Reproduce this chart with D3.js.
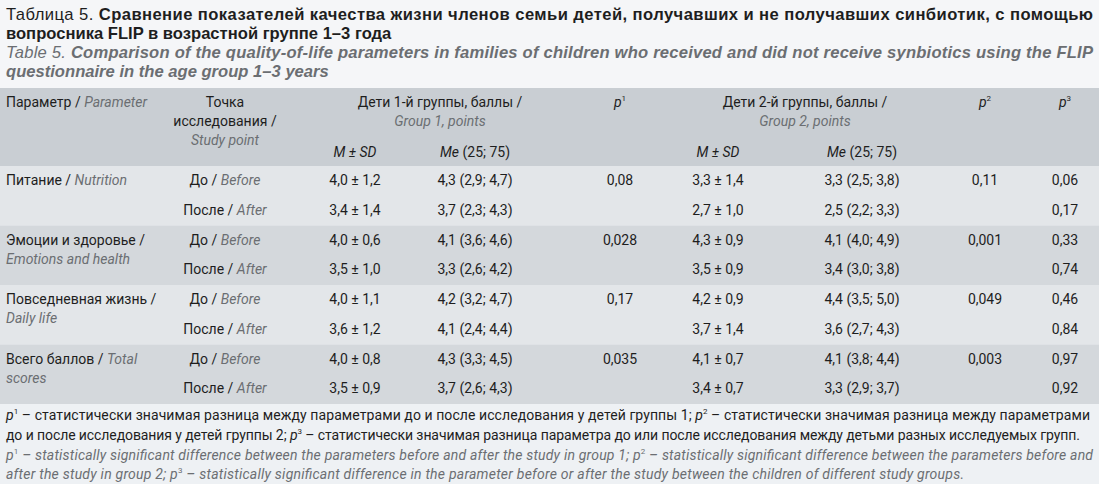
<!DOCTYPE html>
<html><head><meta charset="utf-8">
<script src="https://cdn.jsdelivr.net/npm/d3@7"></script>
<style>body{margin:0;background:#f3f5f7}svg{display:block}</style></head>
<body><svg id="c" width="1099" height="484"></svg>
<script>
const paramsRu=["Питание","Эмоции и здоровье","Повседневная жизнь","Всего баллов"];
const paramsEn=["Nutrition","Emotions and health","Daily life","Total scores"];
const pointsRu=["До","После"], pointsEn=["Before","After"];
const g1msd=["4,0 ± 1,2","3,4 ± 1,4","4,0 ± 0,6","3,5 ± 1,0","4,0 ± 1,1","3,6 ± 1,2","4,0 ± 0,8","3,5 ± 0,9"];
const g1me=["4,3 (2,9; 4,7)","3,7 (2,3; 4,3)","4,1 (3,6; 4,6)","3,3 (2,6; 4,2)","4,2 (3,2; 4,7)","4,1 (2,4; 4,4)","4,3 (3,3; 4,5)","3,7 (2,6; 4,3)"];
const p1=["0,08","0,028","0,17","0,035"];
const g2msd=["3,3 ± 1,4","2,7 ± 1,0","4,3 ± 0,9","3,5 ± 0,9","4,2 ± 0,9","3,7 ± 1,4","4,1 ± 0,7","3,4 ± 0,7"];
const g2me=["3,3 (2,5; 3,8)","2,5 (2,2; 3,3)","4,1 (4,0; 4,9)","3,4 (3,0; 3,8)","4,4 (3,5; 5,0)","3,6 (2,7; 4,3)","4,1 (3,8; 4,4)","3,3 (2,9; 3,7)"];
const p2=["0,11","0,001","0,049","0,003"];
const p3=["0,06","0,17","0,33","0,74","0,46","0,84","0,97","0,92"];

const svg=d3.select("#c");
const N="Roboto,'Liberation Sans',Arial,sans-serif";
const W="'Liberation Sans',Arial,sans-serif";
const GR="#6b6e72", BK="#1e1e1e";
function txt(x,y,parts,opt={}){
  const t=svg.append("text").attr("x",x).attr("y",y).attr("font-family",opt.f||N)
   .attr("font-size",opt.s||14).attr("text-anchor",opt.a||"start").attr("fill",BK);
  if(opt.len)t.attr("textLength",opt.len).attr("lengthAdjust","spacing");
  parts.forEach(p=>{const ts=t.append("tspan").text(p.t);
    if(p.i)ts.attr("font-style","italic");
    if(p.b)ts.attr("font-weight","bold");
    if(p.g)ts.attr("fill",GR);
    if(p.sup)ts.attr("font-size",8).attr("dy",-6);
    if(p.down)ts.attr("dy",6);});
  return t;
}
svg.append("rect").attr("width",1099).attr("height",88).attr("fill","#f5f6f8");
svg.append("rect").attr("y",88).attr("width",1099).attr("height",78).attr("fill","#c9ced3");
const gy=d3.scaleBand().domain(d3.range(4)).range([166,404]);
svg.selectAll("rect.g").data(d3.range(4)).join("rect").attr("class","g")
 .attr("y",d=>gy(d)).attr("width",1099).attr("height",gy.bandwidth())
 .attr("fill",d=>d%2?"#d4d8dc":"#e3e6e9");
svg.append("rect").attr("y",404).attr("width",1099).attr("height",80).attr("fill","#eef1f4");

txt(6,20,[{t:"Таблица 5. "},{t:"Сравнение показателей качества жизни членов семьи детей, получавших и не получавших синбиотик, с помощью",b:1}],{f:W,s:16.6,len:1087});
txt(6,39,[{t:"вопросника FLIP в возрастной группе 1–3 года",b:1}],{f:W,s:16.6});
txt(6,58,[{t:"Table 5. ",i:1,g:1},{t:"Comparison of the quality-of-life parameters in families of children who received and did not receive synbiotics using the FLIP",i:1,b:1,g:1}],{f:W,s:16.6,len:1087});
txt(6,77,[{t:"questionnaire in the age group 1–3 years",i:1,b:1,g:1}],{f:W,s:16.6});

const cx={sp:225,m1:355,e1:475,p1:620,m2:718,e2:862,p2:985,p3:1065};
txt(6,107,[{t:"Параметр / "},{t:"Parameter",i:1,g:1}]);
txt(cx.sp,107,[{t:"Точка"}],{a:"middle"});
txt(cx.sp,126,[{t:"исследования /"}],{a:"middle"});
txt(cx.sp,145,[{t:"Study point",i:1,g:1}],{a:"middle"});
txt(440,107,[{t:"Дети 1-й группы, баллы /"}],{a:"middle"});
txt(440,126,[{t:"Group 1, points",i:1,g:1}],{a:"middle"});
txt(805,107,[{t:"Дети 2-й группы, баллы /"}],{a:"middle"});
txt(805,126,[{t:"Group 2, points",i:1,g:1}],{a:"middle"});
[["m1","e1"],["m2","e2"]].forEach(([m,e])=>{
  txt(cx[m],157,[{t:"M ± SD",i:1}],{a:"middle"});
  txt(cx[e],157,[{t:"Me",i:1},{t:" (25; 75)"}],{a:"middle"});
});
[["p1","1"],["p2","2"],["p3","3"]].forEach(([k,n])=>txt(cx[k],107,[{t:"p",i:1},{t:n,sup:1}],{a:"middle"}));

const ry=i=>gy(Math.floor(i/2))+19+(i%2)*29.5;
paramsRu.forEach((p,i)=>{
  const y=gy(i)+19;
  if(i===1||i===2){
    txt(6,y,[{t:p+" /"}]); txt(6,y+19,[{t:paramsEn[i],i:1,g:1}]);
  } else if(i===3){
    txt(6,y,[{t:p+" / "},{t:"Total",i:1,g:1}]); txt(6,y+19,[{t:"scores",i:1,g:1}]);
  } else txt(6,y,[{t:p+" / "},{t:paramsEn[i],i:1,g:1}]);
  txt(cx.p1,y,[{t:p1[i]}],{a:"middle"});
  txt(cx.p2,y,[{t:p2[i]}],{a:"middle"});
});
d3.range(8).forEach(i=>{
  const y=ry(i), k=i%2;
  txt(cx.sp,y,[{t:pointsRu[k]+" / "},{t:pointsEn[k],i:1,g:1}],{a:"middle"});
  txt(cx.m1,y,[{t:g1msd[i]}],{a:"middle"});
  txt(cx.e1,y,[{t:g1me[i]}],{a:"middle"});
  txt(cx.m2,y,[{t:g2msd[i]}],{a:"middle"});
  txt(cx.e2,y,[{t:g2me[i]}],{a:"middle"});
  txt(cx.p3,y,[{t:p3[i]}],{a:"middle"});
});

txt(6,420,[{t:"p",i:1},{t:"1",sup:1},{t:" – статистически значимая разница между параметрами до и после исследования у детей группы 1; ",down:1},{t:"p",i:1},{t:"2",sup:1},{t:" – статистически значимая разница между параметрами",down:1}],{len:1084});
txt(6,440,[{t:"до и после исследования у детей группы 2; "},{t:"p",i:1},{t:"3",sup:1},{t:" – статистически значимая разница параметра до или после исследования между детьми разных исследуемых групп.",down:1}],{len:1074});
txt(6,460,[{t:"p",i:1,g:1},{t:"1",sup:1,g:1},{t:" – statistically significant difference between the parameters before and after the study in group 1; ",i:1,g:1,down:1},{t:"p",i:1,g:1},{t:"2",sup:1,g:1},{t:" – statistically significant difference between the parameters before and",i:1,g:1,down:1}],{len:1087});
txt(6,479,[{t:"after the study in group 2; ",i:1,g:1},{t:"p",i:1,g:1},{t:"3",sup:1,g:1},{t:" – statistically significant difference in the parameter before or after the study between the children of different study groups.",i:1,g:1,down:1}],{len:958});
</script></body></html>
